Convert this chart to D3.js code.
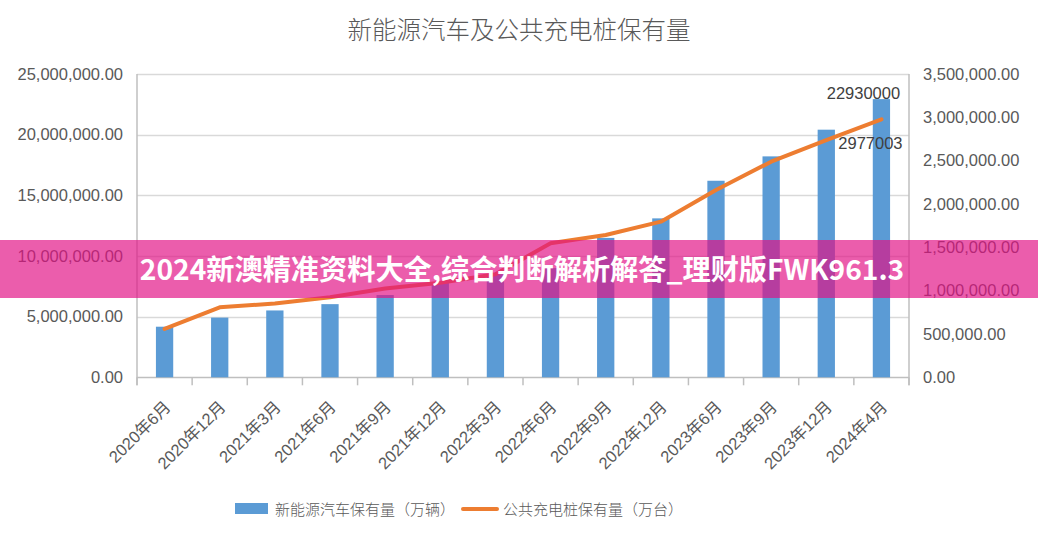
<!DOCTYPE html>
<html><head><meta charset="utf-8">
<script src="https://cdn.jsdelivr.net/npm/d3@7"></script>
<style>
html,body{margin:0;padding:0;background:#fff;}
svg{display:block;}
</style></head>
<body>
<svg id="chart" width="1038" height="539"></svg>
<script>
const title = "新能源汽车及公共充电桩保有量";
const categories = ["2020年6月","2020年12月","2021年3月","2021年6月","2021年9月","2021年12月","2022年3月","2022年6月","2022年9月","2022年12月","2023年6月","2023年9月","2023年12月","2024年4月"];
const vehicles = [4170000, 4920000, 5510000, 6030000, 6780000, 7800000, 8500000, 9000000, 11490000, 13100000, 16200000, 18210000, 20410000, 22930000];
const chargers = [558000, 807000, 851000, 923000, 1025000, 1090000, 1190000, 1546000, 1642000, 1796000, 2161000, 2488000, 2738000, 2977003];
const leftTicks = [0, 5000000, 10000000, 15000000, 20000000, 25000000];
const rightTicks = [0, 500000, 1000000, 1500000, 2000000, 2500000, 3000000, 3500000];
const seriesNames = ["新能源汽车保有量（万辆）", "公共充电桩保有量（万台）"];
const bannerText = "2024新澳精准资料大全,综合判断解析解答_理财版FWK961.3";

const W = 1038, H = 539;
const m = {left: 137, right: 909, top: 74, bottom: 377.3};
const svg = d3.select("#chart");
const numFont = "'Liberation Sans', 'Noto Sans CJK SC', sans-serif";
const cjkFont = "'Noto Sans CJK SC', sans-serif";
const fmt = d3.format(",.2f");

const x = d3.scaleBand().domain(categories).range([m.left, m.right]).paddingInner(0).paddingOuter(0);
const yL = d3.scaleLinear().domain([0, 25000000]).range([m.bottom, m.top]);
const yR = d3.scaleLinear().domain([0, 3500000]).range([m.bottom, m.top]);

// title
svg.append("text").attr("x", W/2).attr("y", 39).attr("text-anchor","middle")
  .attr("font-family", cjkFont).attr("font-size", 24.5).attr("font-weight", 300).attr("fill","#595959").text(title);

// gridlines
svg.append("g").selectAll("line").data(leftTicks).join("line")
  .attr("x1", m.left).attr("x2", m.right)
  .attr("y1", d => Math.round(yL(d))+0.5).attr("y2", d => Math.round(yL(d))+0.5)
  .attr("stroke", d => d===0 ? "#bfbfbf" : "#d9d9d9").attr("stroke-width", 1.5);

// left axis
const gL = svg.append("g").attr("transform", `translate(${m.left},0)`)
  .call(d3.axisLeft(yL).tickValues(leftTicks).tickFormat(fmt).tickSize(0).tickPadding(14));
gL.select(".domain").remove();
gL.selectAll("text").attr("font-family", numFont).attr("font-size", 16.5).attr("fill", "#595959");
svg.append("line").attr("x1", m.left).attr("x2", m.left).attr("y1", m.top).attr("y2", m.bottom+8)
  .attr("stroke","#bfbfbf").attr("stroke-width",1.5);

// right axis
const gR = svg.append("g").attr("transform", `translate(${m.right},0)`)
  .call(d3.axisRight(yR).tickValues(rightTicks).tickFormat(fmt).tickSize(0).tickPadding(14));
gR.select(".domain").remove();
gR.selectAll("text").attr("font-family", numFont).attr("font-size", 16.5).attr("fill", "#595959");
svg.append("line").attr("x1", m.right).attr("x2", m.right).attr("y1", m.top).attr("y2", m.bottom+8)
  .attr("stroke","#bfbfbf").attr("stroke-width",1.5);

// x tick marks at category boundaries
const bounds = categories.map(c => x(c)).concat([m.right]);
svg.append("g").selectAll("line").data(bounds).join("line")
  .attr("x1", d => d).attr("x2", d => d).attr("y1", m.bottom).attr("y2", m.bottom+8)
  .attr("stroke","#bfbfbf").attr("stroke-width",1.5);

// bars
const bw = x.bandwidth() / 3.19;
svg.append("g").selectAll("rect").data(vehicles).join("rect")
  .attr("x", (d,i) => x(categories[i]) + x.bandwidth()/2 - bw/2)
  .attr("width", bw)
  .attr("y", d => yL(d)).attr("height", d => m.bottom - yL(d))
  .attr("fill", "#5b9bd5");

// line
const line = d3.line().x((d,i) => x(categories[i]) + x.bandwidth()/2).y(d => yR(d));
svg.append("path").datum(chargers).attr("d", line).attr("fill","none")
  .attr("stroke","#ed7d31").attr("stroke-width",4).attr("stroke-linejoin","round").attr("stroke-linecap","round");

// data labels
const li = categories.length - 1;
const cxLast = x(categories[li]) + x.bandwidth()/2;
svg.append("text").attr("x", cxLast - 18).attr("y", yL(vehicles[li]) - 0.5).attr("text-anchor","middle")
  .attr("font-family", numFont).attr("font-size", 16.5).attr("fill","#404040").text(vehicles[li]);
svg.append("text").attr("x", cxLast - 11).attr("y", yR(chargers[li]) + 29.5).attr("text-anchor","middle")
  .attr("font-family", numFont).attr("font-size", 16.5).attr("fill","#404040").text(chargers[li]);

// x labels
svg.append("g").selectAll("text").data(categories).join("text")
  .attr("transform", d => `translate(${x(d) + x.bandwidth()/2 + 7},${408}) rotate(-45)`)
  .attr("text-anchor","end")
  .attr("font-family", numFont).attr("font-size", 16.5).attr("fill","#595959").text(d => d);

// legend
const lg = svg.append("g");
lg.append("rect").attr("x", 235).attr("y", 503).attr("width", 33).attr("height", 11).attr("fill","#5b9bd5");
lg.append("text").attr("x", 275).attr("y", 515).attr("font-family", cjkFont).attr("font-size", 15).attr("font-weight",300)
  .attr("fill","#595959").text(seriesNames[0]);
lg.append("line").attr("x1", 463).attr("x2", 497).attr("y1", 509).attr("y2", 509)
  .attr("stroke","#ed7d31").attr("stroke-width",4).attr("stroke-linecap","round");
lg.append("text").attr("x", 503).attr("y", 515).attr("font-family", cjkFont).attr("font-size", 15).attr("font-weight",300)
  .attr("fill","#595959").text(seriesNames[1]);

// overlay banner
svg.append("rect").attr("x",0).attr("y",240).attr("width",W).attr("height",58)
  .attr("fill","rgb(226,16,132)").attr("fill-opacity",0.68);
svg.append("text").attr("x", 522).attr("y", 280).attr("text-anchor","middle")
  .attr("font-family", cjkFont).attr("font-weight", 700).attr("font-size", 28.2).attr("fill","#ffffff").text(bannerText);
</script>
</body></html>
